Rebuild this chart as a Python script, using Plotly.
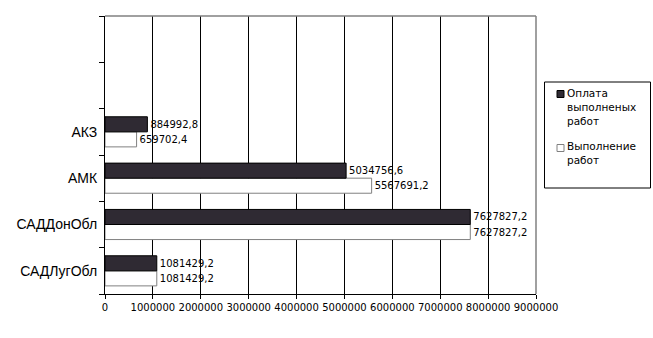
import plotly.graph_objects as go

categories = ["САДЛугОбл", "САДДонОбл", "АМК", "АКЗ"]
blank_slots = [" ", "  "]
paid = [1081429.2, 7627827.2, 5034756.6, 884992.8]
done = [1081429.2, 7627827.2, 5567691.2, 659702.4]
series_names = ["Оплата<br>выполненых<br>работ", "Выполнение<br>работ"]
x_ticks = [0, 1000000, 2000000, 3000000, 4000000, 5000000, 6000000, 7000000, 8000000, 9000000]

dark = "#2f2a33"


def fmt(v):
    return f"{v:.1f}".replace(".", ",")


lab_font = dict(family="DejaVu Sans", size=10, color="black")

fig = go.Figure()
fig.add_trace(go.Bar(
    y=categories, x=done, orientation="h", name=series_names[1],
    marker=dict(color="white", line=dict(color="#808080", width=1)),
    text=[fmt(v) for v in done], textposition="outside", textfont=lab_font,
    constraintext="none", cliponaxis=False, showlegend=False,
))
fig.add_trace(go.Bar(
    y=categories, x=paid, orientation="h", name=series_names[0],
    marker=dict(color=dark, line=dict(color="black", width=1)),
    text=[fmt(v) for v in paid], textposition="outside", textfont=lab_font,
    constraintext="none", cliponaxis=False, showlegend=False,
))
# legend entries (swatches drawn as shapes below)
fig.add_trace(go.Scatter(
    x=[None], y=[None], mode="markers", name=series_names[0],
    marker=dict(symbol="square", size=7, color="rgba(0,0,0,0)"),
    legendgroup="a", legendrank=1,
))
fig.add_trace(go.Scatter(
    x=[None], y=[None], mode="markers", name=series_names[1] + "<br> ",
    marker=dict(symbol="square", size=7, color="rgba(0,0,0,0)"),
    legendgroup="b", legendrank=2,
))


def px_x(p):
    return (p - 105) / 431


def px_y(p):
    return (294 - p) / 278


fig.update_layout(
    width=653, height=338,
    margin=dict(l=105, r=117, t=16, b=44, autoexpand=False),
    paper_bgcolor="white", plot_bgcolor="white",
    barmode="group", bargap=0.35, bargroupgap=0,
    font=dict(family="DejaVu Sans", size=10, color="black"),
    showlegend=True,
    legend=dict(
        x=px_x(527), y=px_y(80), xanchor="left", yanchor="top",
        borderwidth=0, bgcolor="rgba(0,0,0,0)",
        font=dict(family="DejaVu Sans", size=10.5, color="black"),
        itemwidth=30, tracegroupgap=9, valign="top",
    ),
    xaxis=dict(
        range=[0, 9000000], tickvals=x_ticks, ticktext=[str(v) for v in x_ticks],
        tickangle=0, automargin=False,
        showgrid=True, gridcolor="black", gridwidth=1,
        showline=True, linecolor="black", linewidth=1,
        ticks="outside", ticklen=4, tickcolor="black",
        zeroline=False,
        tickfont=dict(family="DejaVu Sans", size=10, color="black"),
    ),
    yaxis=dict(
        type="category", categoryorder="array",
        categoryarray=categories + blank_slots,
        range=[-0.5, 5.5], tickson="boundaries", automargin=False,
        showline=True, linecolor="black", linewidth=1,
        ticks="outside", ticklen=5, tickcolor="black",
        showgrid=False, zeroline=False, ticklabelstandoff=4,
        tickfont=dict(family="Liberation Sans", size=14, color="black"),
    ),
    shapes=[
        dict(type="line", xref="paper", yref="paper", x0=0, x1=1, y0=1, y1=1,
             line=dict(color="#808080", width=1.5), layer="above"),
        dict(type="line", xref="paper", yref="paper", x0=1, x1=1, y0=0, y1=1,
             line=dict(color="#808080", width=1.5), layer="above"),
        dict(type="rect", xref="paper", yref="paper", x0=px_x(544.5), x1=px_x(650.5),
             y0=px_y(188), y1=px_y(82), line=dict(color="black", width=1),
             fillcolor="rgba(0,0,0,0)", layer="below"),
        dict(type="rect", xref="paper", yref="paper", x0=px_x(557), x1=px_x(564),
             y0=px_y(97.5), y1=px_y(90.5), line=dict(color="black", width=1),
             fillcolor=dark, layer="above"),
        dict(type="rect", xref="paper", yref="paper", x0=px_x(557), x1=px_x(564),
             y0=px_y(151.5), y1=px_y(144.5), line=dict(color="#808080", width=1),
             fillcolor="white", layer="above"),
    ],
)

fig.write_html("out.html")
